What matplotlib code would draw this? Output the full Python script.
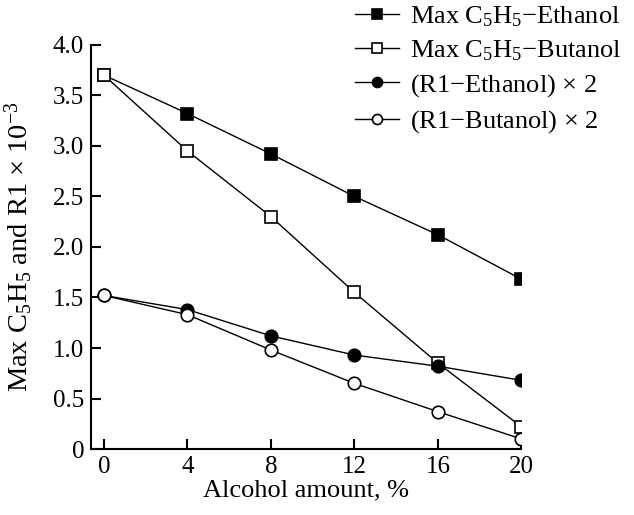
import matplotlib.pyplot as plt

plt.rcParams['font.family'] = ['Liberation Serif', 'DejaVu Serif']
plt.rcParams['mathtext.fontset'] = 'custom'
plt.rcParams['mathtext.rm'] = 'Liberation Serif'
plt.rcParams['mathtext.it'] = 'Liberation Serif:italic'

# alcohol content in fuel, %
alcohol = [0, 4, 8, 12, 16, 20]

max_c5h5_ethanol = [3.70, 3.32, 2.92, 2.50, 2.12, 1.68]
max_c5h5_butanol = [3.70, 2.95, 2.30, 1.55, 0.85, 0.22]
r1_ethanol_x2 = [1.52, 1.38, 1.12, 0.93, 0.82, 0.68]
r1_butanol_x2 = [1.52, 1.33, 0.98, 0.65, 0.37, 0.10]

labels = [
    r'Max C$_5$H$_5$$-$Ethanol',
    r'Max C$_5$H$_5$$-$Butanol',
    r'(R1$-$Ethanol) × 2',
    r'(R1$-$Butanol) × 2',
]

fig = plt.figure(figsize=(6.34, 5.15), dpi=100)
ax = fig.add_axes([0.1435, 0.128, 0.679, 0.785])

common = dict(color='black', lw=1.0, markersize=9, markeredgewidth=1.2)
ax.plot(alcohol, max_c5h5_ethanol, marker='s', mfc='black', mec='black', label=labels[0], **common)
ax.plot(alcohol, max_c5h5_butanol, marker='s', mfc='white', mec='black', label=labels[1], **common)
ax.plot(alcohol, r1_ethanol_x2, marker='o', mfc='black', mec='black', label=labels[2], **common)
ax.plot(alcohol, r1_butanol_x2, marker='o', mfc='white', mec='black', label=labels[3], **common)

ax.set_xlim(-0.62, 20)
ax.set_ylim(0, 4.0)
ax.set_xticks(alcohol)
ax.set_yticks([0, 0.5, 1.0, 1.5, 2.0, 2.5, 3.0, 3.5, 4.0])
ax.set_yticklabels(['0', '0.5', '1.0', '1.5', '2.0', '2.5', '3.0', '3.5', '4.0'])

for side in ['top', 'right']:
    ax.spines[side].set_visible(False)
for side in ['left', 'bottom']:
    ax.spines[side].set_linewidth(1.5)
ax.tick_params(direction='in', length=7, width=1.5, labelsize=18, pad=5)

ax.set_xlabel('Alcohol amount, %', fontsize=19, labelpad=1)
ax.set_ylabel(r'Max C$_5$H$_5$ and R1 × 10$^{-3}$', fontsize=20.5)
ax.yaxis.set_label_coords(-0.13, 0.5)

fig.legend(handles=ax.get_lines(), loc='upper left', bbox_to_anchor=(355 / 634, 1 - 4 / 515),
           frameon=False, fontsize=19, handlelength=1.65, handletextpad=0.45,
           labelspacing=0.36, borderaxespad=0, borderpad=0, markerscale=0.8)

fig.savefig('out.png', dpi=100)
